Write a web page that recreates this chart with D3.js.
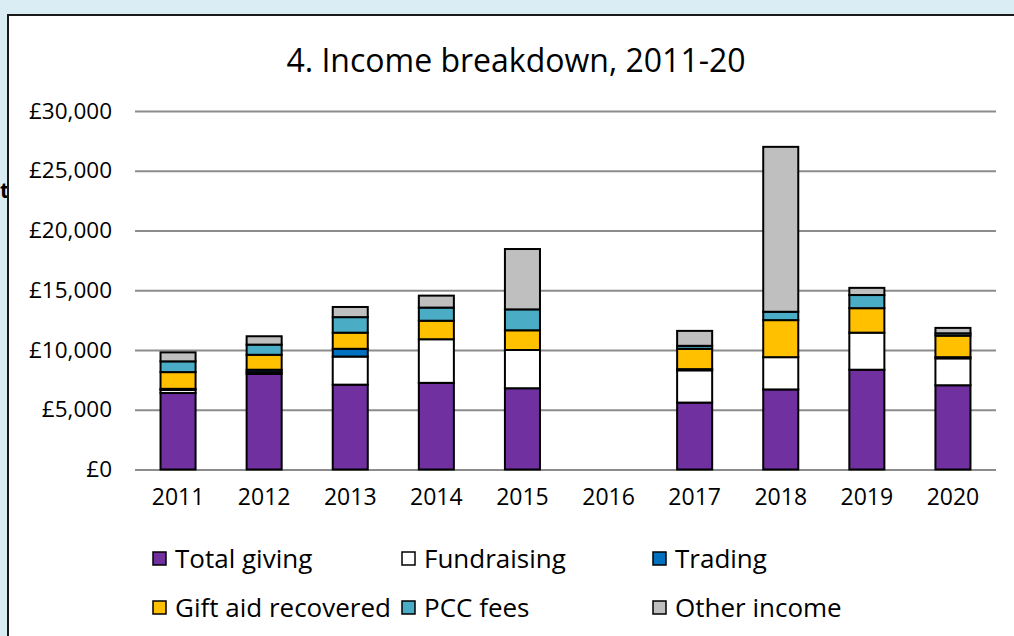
<!DOCTYPE html>
<html>
<head>
<meta charset="utf-8">
<script src="https://cdn.jsdelivr.net/npm/d3@7"></script>
<style>
    html, body { margin: 0; padding: 0; background: #dbedf4; }
    svg { display: block; font-family: "Open Sans", Lato, sans-serif; }
</style>
</head>
<body>
<svg id="chart" width="1014" height="636"></svg>
<script>
// Income breakdown, 2011-20 (stacked bars)

const years = ['2011', '2012', '2013', '2014', '2015', '2016', '2017', '2018', '2019', '2020'];
const totalGiving    = [6400, 8000, 7100, 7250, 6800, 0, 5600, 6700, 8350, 7050];
const fundraising    = [250, 150, 2350, 3650, 3200, 0, 2700, 2700, 3100, 2250];
const trading        = [100, 200, 650, 0, 0, 0, 100, 0, 0, 100];
const giftAid        = [1400, 1250, 1350, 1550, 1650, 0, 1700, 3100, 2050, 1800];
const pccFees        = [900, 850, 1300, 1100, 1750, 0, 250, 700, 1100, 200];
const otherIncome    = [750, 700, 850, 1000, 5050, 0, 1250, 13800, 600, 450];
const yTicks = [0, 5000, 10000, 15000, 20000, 25000, 30000];

const seriesNames = ['Total giving', 'Fundraising', 'Trading', 'Gift aid recovered', 'PCC fees', 'Other income'];
const seriesValues = [totalGiving, fundraising, trading, giftAid, pccFees, otherIncome];
const colors = ['#7030a0', '#ffffff', '#0070c0', '#ffc000', '#4bacc6', '#bfbfbf'];

const svg = d3.select('#chart');
const font = '"Open Sans", Lato, sans-serif';

// stray glyph peeking out behind the panel
svg.append('text')
    .attr('x', 0)
    .attr('y', 198)
    .attr('font-size', '21px')
    .attr('font-weight', 'bold')
    .attr('fill', '#000')
    .text('t');

// white chart panel
svg.append('rect')
    .attr('x', 8)
    .attr('y', 15)
    .attr('width', 1014)
    .attr('height', 640)
    .attr('fill', '#ffffff')
    .attr('stroke', '#1a1a1a')
    .attr('stroke-width', 2);

// Title
svg.append('text')
    .attr('x', 516)
    .attr('y', 72)
    .attr('text-anchor', 'middle')
    .attr('font-size', '32px')
    .attr('fill', '#000')
    .text('4. Income breakdown, 2011-20');

// Scales
const x = d3.scaleBand()
    .domain(years)
    .range([135, 996])
    .paddingInner(0.593)
    .paddingOuter(0.2965);

const y = d3.scaleLinear()
    .domain([0, 30000])
    .range([469.5, 111]);

// Grid lines
svg.append('g')
    .attr('transform', 'translate(135,0)')
    .call(d3.axisLeft(y).tickValues(yTicks).tickSize(-861).tickFormat(''))
    .call(g => g.select('.domain').remove())
    .call(g => g.selectAll('line').attr('stroke', '#8c8c8c').attr('stroke-width', 2));

// Y axis labels
svg.append('g')
    .attr('transform', 'translate(135,0)')
    .call(d3.axisLeft(y).tickValues(yTicks).tickSize(0).tickPadding(23)
        .tickFormat(d => '£' + d3.format(',')(d)))
    .call(g => g.select('.domain').remove())
    .call(g => g.selectAll('text')
        .attr('font-family', font)
        .attr('font-size', '22.5px')
        .attr('fill', '#000'));

// X axis labels
svg.append('g')
    .attr('transform', 'translate(0,469.5)')
    .call(d3.axisBottom(x).tickSize(0).tickPadding(19))
    .call(g => g.select('.domain').remove())
    .call(g => g.selectAll('text')
        .attr('font-family', font)
        .attr('font-size', '23px')
        .attr('fill', '#000'));

// Stacked data
const table = years.map((yr, i) => {
    const row = { year: yr };
    seriesNames.forEach((s, j) => { row[s] = seriesValues[j][i]; });
    return row;
});
const stacked = d3.stack().keys(seriesNames)(table);

svg.append('g')
    .selectAll('g')
    .data(stacked)
    .enter()
    .append('g')
    .attr('fill', (d, i) => colors[i])
    .selectAll('rect')
    .data(d => d.filter(p => p[1] - p[0] > 0))
    .enter()
    .append('rect')
    .attr('x', d => x(d.data.year))
    .attr('y', d => y(d[1]))
    .attr('width', x.bandwidth())
    .attr('height', d => y(d[0]) - y(d[1]))
    .attr('stroke', '#000')
    .attr('stroke-width', 2);

// Legend
const legendPos = [
    [153, 559], [402, 559], [653, 559],
    [153, 608], [402, 608], [653, 608]
];
const legend = svg.append('g');
seriesNames.forEach((name, i) => {
    const row = legend.append('g')
        .attr('transform', `translate(${legendPos[i][0]},${legendPos[i][1]})`);
    row.append('rect')
        .attr('x', 0)
        .attr('y', -7)
        .attr('width', 13)
        .attr('height', 13)
        .attr('fill', colors[i])
        .attr('stroke', '#000')
        .attr('stroke-width', 1.5);
    row.append('text')
        .attr('x', 22)
        .attr('y', 8.5)
        .attr('font-size', '26px')
        .attr('fill', '#000')
        .text(name);
});
</script>
</body>
</html>
